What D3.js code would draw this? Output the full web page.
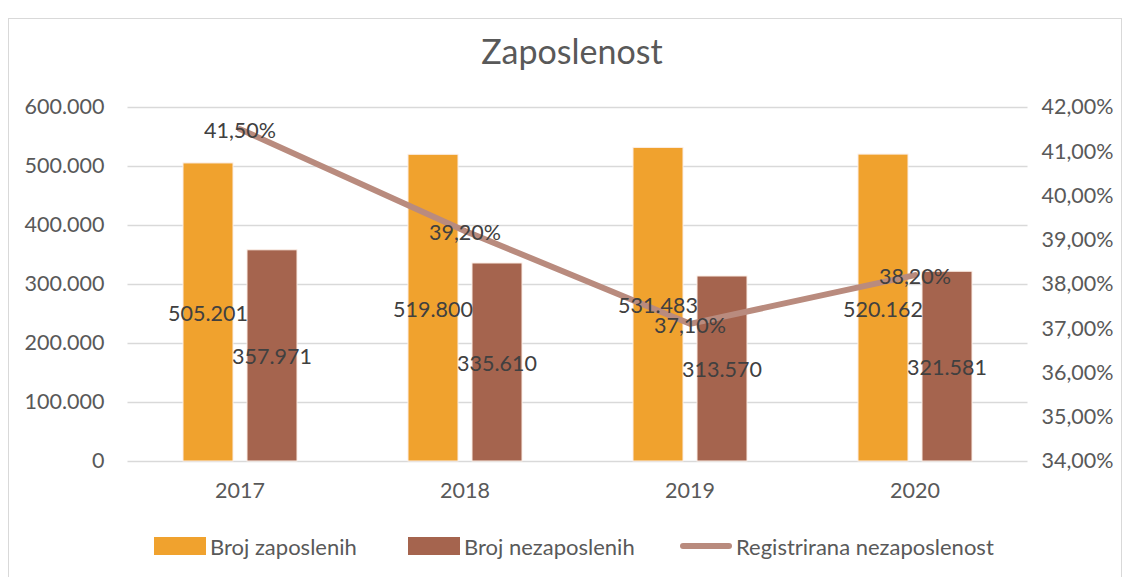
<!DOCTYPE html>
<html>
<head>
<meta charset="utf-8">
<script src="https://cdn.jsdelivr.net/npm/d3@7"></script>
<style>
  body { margin: 0; background: #fff; }
  svg text { font-family: Lato, "Open Sans", sans-serif; }
</style>
</head>
<body>
<svg id="myGraph" width="1130" height="577"></svg>
<script>
// podaci
var years = ['2017', '2018', '2019', '2020'];
var zaposleni = [505201, 519800, 531483, 520162];
var nezaposleni = [357971, 335610, 313570, 321581];
var stopa = [41.5, 39.2, 37.1, 38.2];
var leftTicks = [0, 100000, 200000, 300000, 400000, 500000, 600000];
var rightTicks = [34, 35, 36, 37, 38, 39, 40, 41, 42];
var seriesNames = ['Broj zaposlenih', 'Broj nezaposlenih', 'Registrirana nezaposlenost'];

var colors = ['#F0A22E', '#A5644E', '#B98B7E'];

var svg = d3.select('#myGraph');

// okvir grafikona
svg.append('rect')
  .attr('x', 8.5).attr('y', 18.5)
  .attr('width', 1113).attr('height', 600)
  .attr('fill', '#fff')
  .attr('stroke', '#d9d9d9');

var plotLeft = 127.5, plotRight = 1027.5, plotTop = 107, plotBottom = 461;

var x = d3.scaleBand().domain(years).range([plotLeft, plotRight]);
var yLeft = d3.scaleLinear().domain([0, 600000]).range([plotBottom, plotTop]);
var yRight = d3.scaleLinear().domain([34, 42]).range([plotBottom, plotTop]);

var fmtNum = function(v) {
  return v === 0 ? '0' : d3.format(',')(v).replace(/,/g, '.');
};
var fmtPct = function(v) {
  return d3.format('.2f')(v).replace('.', ',') + '%';
};

// naslov
svg.append('text')
  .attr('x', 572).attr('y', 64)
  .attr('text-anchor', 'middle')
  .attr('fill', '#595959')
  .style('font-size', '34px')
  .text('Zaposlenost');

// mreža
svg.append('g')
  .selectAll('line')
  .data(leftTicks)
  .enter()
  .append('line')
  .attr('x1', plotLeft).attr('x2', plotRight)
  .attr('y1', function(d) { return Math.round(yLeft(d)) + 0.5; })
  .attr('y2', function(d) { return Math.round(yLeft(d)) + 0.5; })
  .attr('stroke', '#d9d9d9')
  .attr('stroke-width', 1.5);

// lijeva os
var axisL = d3.axisLeft(yLeft).tickValues(leftTicks).tickFormat(fmtNum).tickSize(0).tickPadding(23);
svg.append('g')
  .attr('transform', 'translate(' + plotLeft + ',0)')
  .call(axisL)
  .call(function(g) { g.select('.domain').remove(); })
  .selectAll('text')
  .attr('fill', '#595959')
  .style('font-family', 'Lato, sans-serif')
  .style('font-size', '21.5px');

// desna os
var axisR = d3.axisRight(yRight).tickValues(rightTicks).tickFormat(fmtPct).tickSize(0).tickPadding(14);
svg.append('g')
  .attr('transform', 'translate(' + plotRight + ',0)')
  .call(axisR)
  .call(function(g) { g.select('.domain').remove(); })
  .selectAll('text')
  .attr('fill', '#595959')
  .style('font-family', 'Lato, sans-serif')
  .style('font-size', '21.5px');

// os x
var axisB = d3.axisBottom(x).tickSize(0).tickPadding(22);
svg.append('g')
  .attr('transform', 'translate(0,' + plotBottom + ')')
  .call(axisB)
  .call(function(g) { g.select('.domain').remove(); })
  .selectAll('text')
  .attr('fill', '#595959')
  .style('font-family', 'Lato, sans-serif')
  .style('font-size', '21.5px');

// stupci
var barW = 50, gap = 14;
var groups = [zaposleni, nezaposleni];
groups.forEach(function(values, s) {
  var off = s === 0 ? -(gap / 2 + barW) : gap / 2;
  svg.append('g')
    .selectAll('rect')
    .data(values)
    .enter()
    .append('rect')
    .attr('x', function(d, i) { return x(years[i]) + x.bandwidth() / 2 + off; })
    .attr('y', function(d) { return yLeft(d); })
    .attr('width', barW)
    .attr('height', function(d) { return yLeft(0) - yLeft(d); })
    .attr('fill', colors[s])
    .attr('stroke', '#fbeee6')
    .attr('stroke-width', 1);
});

// linija
var line = d3.line()
  .x(function(d, i) { return x(years[i]) + x.bandwidth() / 2; })
  .y(function(d) { return yRight(d); });
svg.append('path')
  .datum(stopa)
  .attr('d', line)
  .attr('fill', 'none')
  .attr('stroke', colors[2])
  .attr('stroke-width', 6)
  .attr('stroke-linecap', 'round')
  .attr('stroke-linejoin', 'round');

// oznake podataka
var labelStyle = function(sel) {
  sel.attr('text-anchor', 'middle')
    .attr('dominant-baseline', 'central')
    .attr('fill', '#404040')
    .style('font-size', '21.5px');
};
groups.forEach(function(values, s) {
  var off = s === 0 ? -(gap / 2 + barW / 2) : gap / 2 + barW / 2;
  svg.append('g')
    .selectAll('text')
    .data(values)
    .enter()
    .append('text')
    .attr('x', function(d, i) { return x(years[i]) + x.bandwidth() / 2 + off; })
    .attr('y', function(d) { return (yLeft(d) + yLeft(0)) / 2 + 1; })
    .call(labelStyle)
    .text(fmtNum);
});
svg.append('g')
  .selectAll('text')
  .data(stopa)
  .enter()
  .append('text')
  .attr('x', function(d, i) { return x(years[i]) + x.bandwidth() / 2; })
  .attr('y', function(d) { return yRight(d) + 1; })
  .call(labelStyle)
  .text(function(d) { return d3.format('.2f')(d).replace('.', ',') + '%'; });

// legenda
var legendX = [154, 408, 680];
var legend = svg.append('g')
  .selectAll('g')
  .data(seriesNames)
  .enter()
  .append('g')
  .attr('transform', function(d, i) { return 'translate(' + legendX[i] + ',546)'; });
legend.each(function(d, i) {
  var g = d3.select(this);
  if (i < 2) {
    g.append('rect').attr('x', 0).attr('y', -9).attr('width', 52).attr('height', 18).attr('fill', colors[i]);
  } else {
    g.append('line').attr('x1', 3).attr('x2', 49).attr('y1', 0).attr('y2', 0)
      .attr('stroke', colors[2]).attr('stroke-width', 6).attr('stroke-linecap', 'round');
  }
  g.append('text')
    .attr('x', 56).attr('y', 0)
    .attr('dominant-baseline', 'central')
    .attr('fill', '#595959')
    .style('font-size', '22px')
    .text(d);
});
</script>
</body>
</html>
